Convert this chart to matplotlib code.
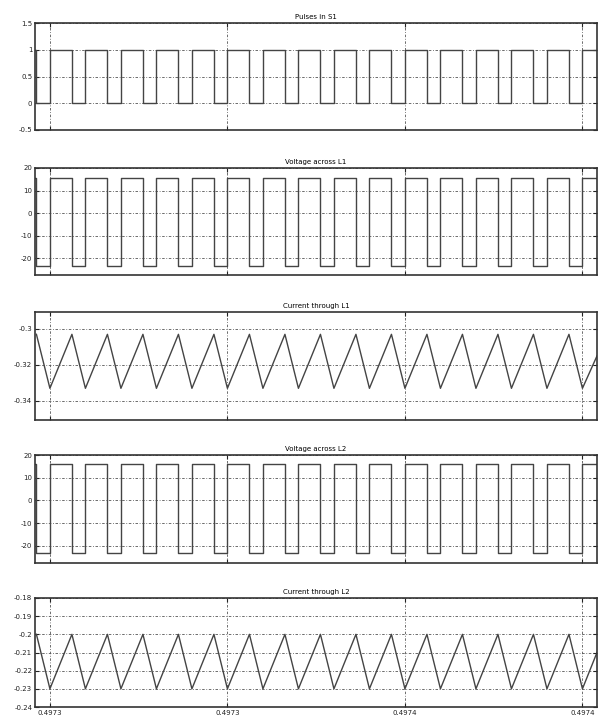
import matplotlib
matplotlib.use('Agg')
import matplotlib.pyplot as plt

# switching instants (s)
t_rise = [0.49730, 0.49731, 0.49732, 0.49733, 0.49734, 0.49735, 0.49736, 0.49737,
          0.49738, 0.49739, 0.49740, 0.49741, 0.49742, 0.49743, 0.49744, 0.49745]
t_fall = [0.4972962, 0.4973062, 0.4973162, 0.4973262, 0.4973362, 0.4973462,
          0.4973562, 0.4973662, 0.4973762, 0.4973862, 0.4973962, 0.4974062,
          0.4974162, 0.4974262, 0.4974362, 0.4974462]
t_start = 0.4972958
t_end = 0.4974541

# levels (on, off) and current peaks / troughs
pulse_levels = (1.0, 0.0)
vl1_levels = (15.7, -23.3)
vl2_levels = (16.0, -23.0)
il1_peak, il1_trough, il1_end = -0.303, -0.333, -0.315
il2_peak, il2_trough, il2_end = -0.200, -0.230, -0.210

titles = ['Pulses in S1', 'Voltage across L1', 'Current through L1',
          'Voltage across L2', 'Current through L2']
xticks = [0.49730, 0.49735, 0.49740, 0.49745]
xticklabels = ['0.4973', '0.4973', '0.4974', '0.4974']
yticks = [
    [-0.5, 0, 0.5, 1, 1.5],
    [-20, -10, 0, 10, 20],
    [-0.34, -0.32, -0.3],
    [-20, -10, 0, 10, 20],
    [-0.24, -0.23, -0.22, -0.21, -0.2, -0.19, -0.18],
]
yticklabels = [
    ['-0.5', '0', '0.5', '1', '1.5'],
    ['-20', '-10', '0', '10', '20'],
    ['-0.34', '-0.32', '-0.3'],
    ['-20', '-10', '0', '10', '20'],
    ['-0.24', '-0.23', '-0.22', '-0.21', '-0.2', '-0.19', '-0.18'],
]
ylims = [(-0.5, 1.5), (-27.5, 20), (-0.3506, -0.2906), (-27.5, 20), (-0.24, -0.18)]


def square(levels):
    events = sorted([(t, levels[1]) for t in t_fall] + [(t, levels[0]) for t in t_rise])
    ts = [t_start] + [e[0] for e in events] + [t_end]
    ys = [levels[0]] + [e[1] for e in events] + [events[-1][1]]
    return ts, ys


def triangle(peak, trough, end):
    events = sorted([(t, peak) for t in t_fall] + [(t, trough) for t in t_rise])
    ts = [e[0] for e in events] + [t_end]
    ys = [e[1] for e in events] + [end]
    return ts, ys


def main():
    fig = plt.figure(figsize=(6.01, 7.18), dpi=100)
    H = 718.0
    boxes = [(23, 130), (168, 275), (312, 420), (455, 563), (598, 707)]
    series = [
        ('step', square(pulse_levels)),
        ('step', square(vl1_levels)),
        ('line', triangle(il1_peak, il1_trough, il1_end)),
        ('step', square(vl2_levels)),
        ('line', triangle(il2_peak, il2_trough, il2_end)),
    ]
    for i, (top, bot) in enumerate(boxes):
        ax = fig.add_axes([35 / 601.0, 1 - bot / H, 562 / 601.0, (bot - top) / H])
        kind, (ts, ys) = series[i]
        if kind == 'step':
            ax.step(ts, ys, where='post', color='#444444', lw=1.0)
        else:
            ax.plot(ts, ys, color='#444444', lw=1.0)
        ax.set_xlim(t_start, t_end)
        ax.set_ylim(*ylims[i])
        ax.set_xticks(xticks)
        if i == 4:
            ax.set_xticklabels(xticklabels)
        else:
            ax.set_xticklabels([])
        ax.set_yticks(yticks[i])
        ax.set_yticklabels(yticklabels[i])
        ax.tick_params(direction='in', length=3, width=0.8, labelsize=5, pad=2,
                       top=True, right=True, colors='#222222')
        ax.grid(True, linestyle=(0, (3, 2, 1, 2)), color='#555555', lw=0.6)
        for s in ax.spines.values():
            s.set_linewidth(1.2)
            s.set_color('#333333')
        ax.set_title(titles[i], fontsize=5, pad=3)
    fig.savefig('out.png', dpi=100)


if __name__ == '__main__':
    main()
